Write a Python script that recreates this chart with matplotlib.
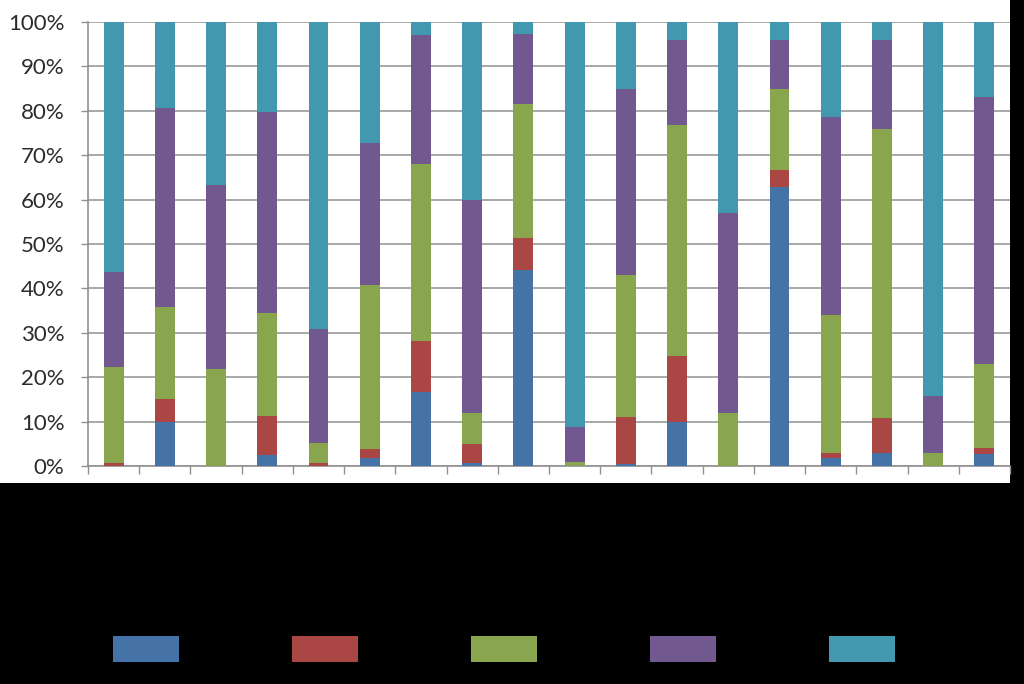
import numpy as np
import matplotlib
matplotlib.use('Agg')
import matplotlib.pyplot as plt
from matplotlib.patches import Rectangle
from matplotlib.ticker import FixedLocator, PercentFormatter

# segment shares (%) per bar, bottom to top
blue = [0, 9.8, 0, 2.4, 0, 1.9, 16.6, 0.6, 44.1, 0, 0.5, 9.9, 0, 62.9, 1.9, 2.9, 0, 2.7]
red = [0.7, 5.4, 0, 8.9, 0.6, 2.0, 11.5, 4.3, 7.2, 0, 10.5, 14.9, 0, 3.8, 1.0, 8.0, 0, 1.3]
green = [21.7, 20.7, 21.9, 23.2, 4.5, 36.9, 39.9, 7.0, 30.3, 0.8, 32.0, 52.0, 12.0, 18.3, 31.0, 64.9, 2.9, 18.9]
purple = [21.4, 44.7, 41.4, 45.2, 25.8, 32.0, 29.0, 48.0, 15.6, 8.0, 41.9, 19.1, 45.0, 11.0, 44.8, 20.2, 12.9, 60.1]
teal = [56.2, 19.4, 36.7, 20.3, 69.1, 27.2, 3.0, 40.1, 2.8, 91.2, 15.1, 4.1, 43.0, 4.0, 21.3, 4.0, 84.2, 17.0]

series_names = ['Series1', 'Series2', 'Series3', 'Series4', 'Series5']
colors = ['#4572A7', '#AA4643', '#89A54E', '#71588F', '#4198AF']
yticks = [0, 10, 20, 30, 40, 50, 60, 70, 80, 90, 100]

plt.rcParams['font.family'] = ['Lato', 'DejaVu Sans']

fig = plt.figure(figsize=(10.24, 6.84), dpi=100, facecolor='black')
# white chart area (upper part only)
fig.patches.append(Rectangle((0, 1 - 483 / 684), 1010 / 1024, 483 / 684,
                             transform=fig.transFigure, facecolor='white',
                             edgecolor='none', zorder=0))

ax = fig.add_axes([88 / 1024, 218 / 684, 922 / 1024, 444 / 684])
ax.set_zorder(2)
ax.set_facecolor('white')

x = np.arange(len(blue))
bottom = np.zeros(len(blue))
for vals, c, name in zip([blue, red, green, purple, teal], colors, series_names):
    ax.bar(x, vals, width=0.39, bottom=bottom, color=c, label=name, zorder=3)
    bottom += np.array(vals)

ax.set_xlim(-0.5, len(blue) - 0.5)
ax.set_ylim(0, 100)
ax.set_yticks(yticks)
ax.yaxis.set_major_formatter(PercentFormatter(decimals=0))
ax.yaxis.grid(True, color='#999999', linewidth=1.2, zorder=0)
ax.tick_params(axis='y', labelsize=16, labelcolor='#2b2b2b', color='#909090',
               length=5, width=1, pad=12)

ax.set_xticks([])
ax.xaxis.set_minor_locator(FixedLocator(np.arange(-0.5, len(blue), 1.0)))
ax.tick_params(axis='x', which='minor', color='#909090', length=6, width=1)

for s in ['top', 'right']:
    ax.spines[s].set_visible(False)
for s in ['left', 'bottom']:
    ax.spines[s].set_color('#909090')
    ax.spines[s].set_linewidth(1.2)

leg = fig.legend(loc='center', bbox_to_anchor=(0.529, 1 - 649 / 684), ncol=5,
                 frameon=False, fontsize=15, handlelength=3.2, handleheight=1.6,
                 handletextpad=0.4, columnspacing=1.77)
for t in leg.get_texts():
    t.set_color('black')

fig.savefig('out.png', dpi=100, facecolor='black')
